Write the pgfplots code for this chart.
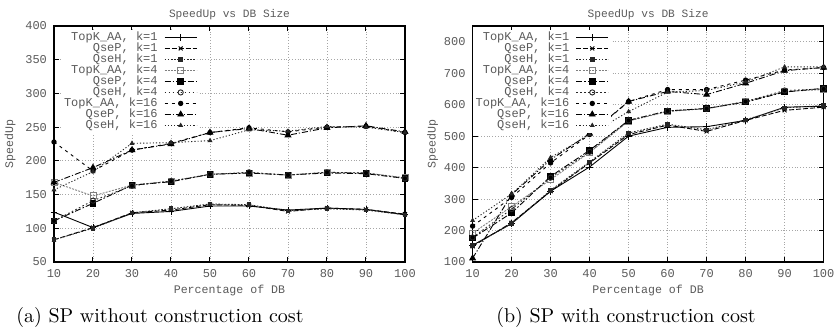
\documentclass[border=0pt]{standalone}
\usepackage{fontspec}
\setmonofont{Liberation Mono}
\usepackage{pgfplots}
\pgfplotsset{compat=1.18}
\definecolor{txt}{HTML}{5A5A5A}
\pgfplotsset{
  gp/.style={
    scale only axis, width=175.5pt, height=118pt,
    anchor=south west,
    xmin=10, xmax=100, xtick={10,20,...,100},
    enlargelimits=false,
    grid=major,
    major grid style={densely dotted, gray!70, line width=0.4pt},
    axis line style={black, line width=0.6pt},
    tick style={black, line width=0.5pt},
    major tick length=2.5pt,
    /pgf/number format/assume math mode=true,
    /pgf/number format/1000 sep={},
    ticklabel style={font=\fontsize{6}{7}\selectfont\ttfamily, text=txt},
    title={SpeedUp vs DB Size},
    every axis title shift=0pt,
    title style={font=\fontsize{5.6}{6.5}\selectfont\ttfamily, text=txt, at={(axis description cs:0.5,1.05)}, anchor=center},
    xlabel={Percentage of DB},
    xlabel style={font=\fontsize{5.8}{6.5}\selectfont\ttfamily, text=txt, at={(axis description cs:0.5,-0.12)}, anchor=center},
    ylabel={SpeedUp},
    ylabel style={font=\fontsize{5.8}{6.5}\selectfont\ttfamily, text=txt, anchor=center},
    legend plot pos=right,
    legend cell align=right,
    legend style={draw=none, fill=white, inner sep=1pt,
      font=\fontsize{6}{6.5}\selectfont\ttfamily, text=txt,
      nodes={inner sep=0.3pt, text height=4pt, text depth=0.9pt},
      row sep=0pt, column sep=3pt, anchor=north west},
    legend image code/.code={\draw[mark repeat=2,mark phase=2] plot coordinates {(0pt,0pt) (8pt,0pt) (16pt,0pt)};},
    every axis plot/.append style={line width=0.45pt, mark size=1.2pt, mark options={solid}},
  },
  s1/.style={black, solid, mark=+, mark size=1.7pt},
  s2/.style={black, dash pattern=on 2.5pt off 1pt, mark=x, mark size=1.4pt},
  s3/.style={black!85, dash pattern=on 0.8pt off 0.8pt, mark=square*, mark size=0.9pt},
  s4/.style={gray, dash pattern=on 1pt off 0.6pt, mark=square, mark size=1.5pt},
  s5/.style={black, dash pattern=on 3pt off 1pt on 0.8pt off 1pt, mark=square*, mark size=1.4pt},
  s6/.style={black!85, dash pattern=on 0.8pt off 1.2pt, mark=o, mark size=1.3pt},
  s7/.style={black, dash pattern=on 1.5pt off 2pt, mark=*, mark size=1.1pt},
  s8/.style={black, dash pattern=on 3pt off 1pt on 0.6pt off 1pt, mark=triangle*, mark size=1.6pt},
  s9/.style={black!85, dash pattern=on 0.6pt off 1pt, mark=triangle*, mark size=1.0pt},
}
\begin{document}
\begin{tikzpicture}
\useasboundingbox (0,0) rectangle (417.5pt,168pt);
% ---------------- (a) ----------------
\begin{axis}[gp, at={(27pt,37pt)},
  ymin=50, ymax=400, ytick={50,100,...,400},
  ylabel style={at={(axis description cs:-0.125,0.5)}},
  legend style={at={(axis description cs:0.02,0.985)}}]
\addplot[s1] coordinates {(10,124) (20,101) (30,122) (40,125) (50,133) (60,133) (70,127) (80,130) (90,128) (100,120)};
\addplot[s2] coordinates {(10,83) (20,101) (30,123) (40,127) (50,135) (60,134) (70,125) (80,130) (90,128) (100,121)};
\addplot[s3] coordinates {(10,83) (20,100) (30,123) (40,129) (50,136) (60,135) (70,126) (80,129) (90,127) (100,120)};
\addplot[s4] coordinates {(10,168) (20,148) (30,164) (40,170) (50,180) (60,182) (70,179) (80,183) (90,182) (100,175)};
\addplot[s5] coordinates {(10,111) (20,137) (30,164) (40,169) (50,180) (60,182) (70,179) (80,182) (90,181) (100,174)};
\addplot[s6] coordinates {(10,111) (20,141) (30,163) (40,170) (50,180) (60,183) (70,179) (80,183) (90,182) (100,174)};
\addplot[s7] coordinates {(10,228) (20,185) (30,216) (40,226) (50,242) (60,249) (70,243) (80,250) (90,251) (100,242)};
\addplot[s8] coordinates {(10,168) (20,190) (30,216) (40,225) (50,242) (60,248) (70,238) (80,249) (90,252) (100,243)};
\addplot[s9] coordinates {(10,157) (20,184) (30,226) (40,227) (50,230) (60,246) (70,244) (80,251) (90,250) (100,242)};
\legend{{TopK\_AA, k=1},{QseP, k=1},{QseH, k=1},{TopK\_AA, k=4},{QseP, k=4},{QseH, k=4},{TopK\_AA, k=16},{QseP, k=16},{QseH, k=16}}
\end{axis}
% ---------------- (b) ----------------
\begin{axis}[gp, at={(236.3pt,37pt)},
  ymin=100, ymax=850, ytick={100,200,...,800},
  ylabel style={at={(axis description cs:-0.114,0.5)}},
  legend style={at={(axis description cs:0.0,0.985)}}]
\addplot[s1] coordinates {(10,153) (20,222) (30,325) (40,402) (50,500) (60,528) (70,530) (80,550) (90,592) (100,595)};
\addplot[s2] coordinates {(10,150) (20,225) (30,325) (40,415) (50,505) (60,535) (70,515) (80,550) (90,582) (100,592)};
\addplot[s3] coordinates {(10,152) (20,222) (30,328) (40,418) (50,510) (60,538) (70,520) (80,552) (90,590) (100,597)};
\addplot[s4] coordinates {(10,192) (20,276) (30,362) (40,448) (50,548) (60,578) (70,588) (80,610) (90,642) (100,648)};
\addplot[s5] coordinates {(10,176) (20,256) (30,372) (40,455) (50,550) (60,580) (70,588) (80,608) (90,640) (100,652)};
\addplot[s6] coordinates {(10,178) (20,268) (30,368) (40,450) (50,550) (60,580) (70,587) (80,610) (90,645) (100,650)};
\addplot[s7] coordinates {(10,214) (20,305) (30,415) (40,505) (50,610) (60,648) (70,648) (80,678) (90,710) (100,718)};
\addplot[s8] coordinates {(10,112) (20,314) (30,425) (40,508) (50,610) (60,642) (70,632) (80,668) (90,708) (100,718)};
\addplot[s9] coordinates {(10,232) (20,316) (30,432) (40,505) (50,578) (60,640) (70,645) (80,672) (90,720) (100,720)};
\legend{{TopK\_AA, k=1},{QseP, k=1},{QseH, k=1},{TopK\_AA, k=4},{QseP, k=4},{QseH, k=4},{TopK\_AA, k=16},{QseP, k=16},{QseH, k=16}}
\end{axis}
\node[font=\fontsize{10}{12}\selectfont] at (80pt,9pt) {(a) SP without construction cost};
\node[font=\fontsize{10}{12}\selectfont] at (313pt,9pt) {(b) SP with construction cost};
\end{tikzpicture}
\end{document}
